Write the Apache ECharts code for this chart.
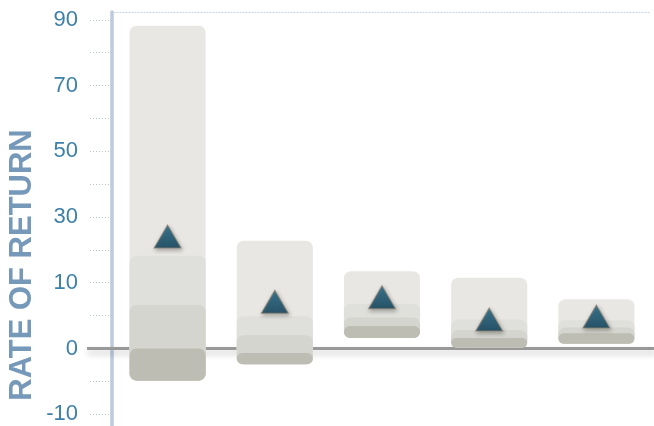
<!DOCTYPE html>
<html>
<head>
<meta charset="utf-8">
<script src="https://cdn.jsdelivr.net/npm/echarts@6/dist/echarts.min.js"></script>
<style>html,body{margin:0;padding:0;background:#fff;}#c{width:654px;height:426px;}</style>
</head>
<body>
<div id="c"></div>
<script>
// ---- data ----
var categories = ['Asset 1', 'Asset 2', 'Asset 3', 'Asset 4', 'Asset 5'];
var lowValues  = [-4.9, -2.4, 1.6, 0.1, 0.7];
var p25Values  = [0.0, -0.7, 3.4, 1.6, 2.3];
var p50Values  = [6.6, 2.0, 4.7, 2.8, 3.2];
var p75Values  = [18.2, 4.9, 6.8, 4.4, 4.3];
var highValues = [88.2, 22.8, 13.5, 11.5, 7.5];
var meanValues = [24.1, 7.1, 7.8, 4.4, 4.85];
var yTickLabels = [-10, 0, 10, 30, 50, 70, 90];

// piecewise scale: each labelled tick is equally spaced
var zeroIdx = yTickLabels.indexOf(0);
function toAxis(v) {
  var L = yTickLabels, n = L.length;
  var i = 0;
  if (v <= L[0]) i = 0;
  else if (v >= L[n - 1]) i = n - 2;
  else { while (i < n - 2 && v > L[i + 1]) i++; }
  return (i - zeroIdx) + (v - L[i]) / (L[i + 1] - L[i]);
}
function fromAxis(p) {
  var idx = Math.round(p) + zeroIdx;
  return yTickLabels[idx];
}

var labelPos = yTickLabels.map(function (v, i) { return i - zeroIdx; });
var tickPos = [];
for (var i = 0; i < labelPos.length; i++) {
  tickPos.push(labelPos[i]);
  if (i < labelPos.length - 1) tickPos.push(labelPos[i] + 0.5);
}

var boxData = categories.map(function (c, i) {
  return [i, toAxis(lowValues[i]), toAxis(p25Values[i]), toAxis(p50Values[i]), toAxis(p75Values[i]), toAxis(highValues[i])];
});
var meanData = categories.map(function (c, i) { return [i, toAxis(meanValues[i])]; });

var layerColors = ['#e8e7e3', '#dfdfdb', '#d5d5cf', '#bdbdb3'];
var zeroLineStyle = { color: '#999999', width: 3, shadowColor: 'rgba(0,0,0,0.22)', shadowBlur: 6, shadowOffsetY: 4 };

var chart = echarts.init(document.getElementById('c'), null, { renderer: 'canvas' });
chart.setOption({
  animation: false,
  backgroundColor: '#ffffff',
  grid: { left: 114, right: 4, top: 12, bottom: 0, containLabel: false },
  graphic: [{
    type: 'text',
    x: 22, y: 265,
    rotation: Math.PI / 2,
    style: {
      text: 'RATE OF RETURN',
      font: 'bold 31px "Liberation Sans", Arial, sans-serif',
      fill: '#7699b9',
      align: 'center',
      verticalAlign: 'middle'
    }
  }],
  xAxis: [{
    type: 'category',
    data: categories,
    z: 1,
    axisLine: { onZero: true, lineStyle: zeroLineStyle },
    axisTick: { show: false },
    axisLabel: { show: false },
    splitLine: { show: false }
  }, {
    type: 'category',
    data: categories,
    position: 'top',
    axisLine: { onZero: false, lineStyle: { color: '#c3d0e0', width: 1, type: [1, 2] } },
    axisTick: { show: false },
    axisLabel: { show: false },
    splitLine: { show: false }
  }],
  yAxis: [{
    type: 'value',
    min: -1.18, max: 5.12,
    offset: 2,
    axisLine: { show: true, lineStyle: { color: '#bccbdd', width: 3.5 } },
    axisTick: {
      show: true, inside: false, length: 24,
      customValues: tickPos,
      lineStyle: { color: '#b3c3d9', width: 1, type: [1, 2] }
    },
    axisLabel: {
      show: true, margin: 34,
      customValues: labelPos,
      formatter: function (v) { return String(fromAxis(v)); },
      color: '#3d80a8',
      fontSize: 22,
      fontFamily: '"Liberation Sans", Arial, sans-serif'
    },
    splitLine: { show: false }
  }, {
    type: 'value',
    min: -1.18, max: 5.12,
    position: 'left',
    z: 1,
    axisLine: { show: false },
    axisTick: { show: true, inside: false, length: 27, customValues: [0], lineStyle: zeroLineStyle },
    axisLabel: { show: false },
    splitLine: { show: false }
  }, {
    type: 'value',
    min: -1.18, max: 5.12,
    position: 'right',
    z: 1,
    axisLine: { show: false },
    axisTick: { show: true, inside: false, length: 6, customValues: [0], lineStyle: zeroLineStyle },
    axisLabel: { show: false },
    splitLine: { show: false }
  }],
  series: [{
    type: 'custom',
    name: 'range',
    data: boxData,
    encode: { x: 0, y: [1, 2, 3, 4, 5] },
    renderItem: function (params, api) {
      var x = api.value(0);
      var bw = api.size([1, 0])[0] * 0.71;
      var bottom = api.coord([x, api.value(1)]);
      var tops = [api.value(5), api.value(4), api.value(3), api.value(2)];
      var children = tops.map(function (t, k) {
        var top = api.coord([x, t]);
        return {
          type: 'rect',
          shape: { x: bottom[0] - bw / 2, y: top[1], width: bw, height: bottom[1] - top[1], r: 7 },
          style: { fill: layerColors[k] }
        };
      });
      return { type: 'group', children: children };
    }
  }, {
    type: 'scatter',
    name: 'mean',
    data: meanData,
    z: 5,
    symbol: 'triangle',
    symbolSize: [27, 23],
    itemStyle: {
      color: new echarts.graphic.LinearGradient(0, 0, 0, 1, [
        { offset: 0, color: '#1b6788' },
        { offset: 1, color: '#083d58' }
      ]),
      borderColor: '#8f8473',
      borderWidth: 1,
      shadowColor: 'rgba(0,0,0,0.35)',
      shadowBlur: 4,
      shadowOffsetX: 1,
      shadowOffsetY: 2
    }
  }]
});
</script>
</body>
</html>
